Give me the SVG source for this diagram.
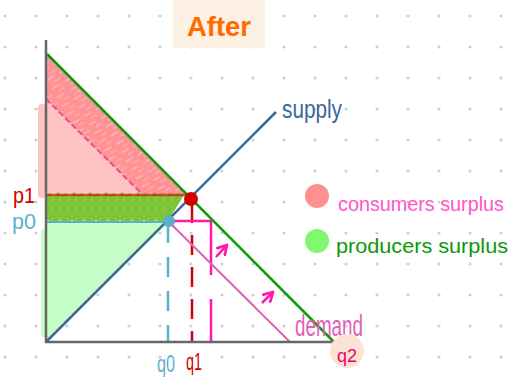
<svg xmlns="http://www.w3.org/2000/svg" width="518" height="382" viewBox="0 0 518 382">
<defs>
<pattern id="dots" x="5" y="16" width="31" height="31" patternUnits="userSpaceOnUse">
<circle cx="0" cy="0" r="1.6" fill="#cfcfcf"/><circle cx="31" cy="0" r="1.6" fill="#cfcfcf"/><circle cx="0" cy="31" r="1.6" fill="#cfcfcf"/><circle cx="31" cy="31" r="1.6" fill="#cfcfcf"/>
</pattern>
<pattern id="hatch" width="14" height="10" patternUnits="userSpaceOnUse" patternTransform="rotate(-30)">
<line x1="1" y1="3" x2="8" y2="3" stroke="#ffffff" stroke-opacity="0.35" stroke-width="1.6" stroke-linecap="round"/>
<line x1="6" y1="8" x2="12" y2="8" stroke="#ffffff" stroke-opacity="0.25" stroke-width="1.4" stroke-linecap="round"/>
</pattern>
<pattern id="ghatch" width="8" height="12" patternUnits="userSpaceOnUse">
<line x1="4" y1="2" x2="4" y2="9" stroke="#9bd45a" stroke-opacity="0.6" stroke-width="1.4" stroke-linecap="round"/>
</pattern>
<marker id="arr" viewBox="0 0 10 10" refX="8" refY="5" markerWidth="5" markerHeight="5" orient="auto">
<path d="M1,1 L8,5 L1,9" fill="none" stroke="#ff1aa6" stroke-width="2.2" stroke-linecap="round" stroke-linejoin="round"/>
</marker>
</defs>
<style>
.hand{font-family:"Liberation Sans Narrow","Liberation Sans",Arial,sans-serif;}
.axis{stroke:#666;stroke-width:2.5;fill:none;}
.dashT{stroke:#5ab2cc;stroke-width:2.5;stroke-dasharray:20 14;fill:none;}
.dashR{stroke:#d40000;stroke-width:2.5;stroke-dasharray:20 12;fill:none;}
.mag{stroke:#ff1aa6;stroke-width:2.5;fill:none;}
</style>
<rect width="518" height="382" fill="#ffffff"/>
<rect width="518" height="382" fill="url(#dots)"/>

<g id="title">
<rect x="173" y="0" width="92" height="48" fill="#fdf1e3"/>
<text x="219" y="36" class="hand" font-size="28" font-weight="bold" fill="#ff6a00" text-anchor="middle" textLength="64" lengthAdjust="spacingAndGlyphs">After</text>
</g>

<g id="areas">
<path d="M46,222 L169,222 L46,342 Z" fill="#c6fcc6"/>
<path d="M44,232 L44,334" stroke="#c6fcc6" stroke-width="6" stroke-linecap="round"/>
<path d="M46,99 L142,195 L46,195 Z" fill="#ffc3c3"/>
<path d="M42,108 L42,194" stroke="#ffc3c3" stroke-width="8" stroke-linecap="round"/>
<path d="M47,55 L188,195 L142,195 L46,99 Z" fill="#ff9292"/>
<path d="M47,55 L188,195 L142,195 L46,99 Z" fill="url(#hatch)"/>
<path d="M46,99 L140,192" stroke="#e8508a" stroke-width="2" stroke-dasharray="6 3" fill="none"/>
<path d="M46,195 L50,193 L54,196 L58,192 L62,195 L66,193 L70,196 L74,192 L78,195 L82,193 L86,196 L90,192 L94,195 L98,193 L102,196 L106,192 L110,195 L114,193 L118,196 L122,192 L126,195 L130,193 L134,196 L138,192 L142,195 L146,193 L150,196 L154,192 L158,195 L162,193 L166,196 L170,192 L174,195 L178,193 L184,195 L168,221 L162,223 L156,220 L150,223 L144,220 L138,223 L132,220 L126,223 L120,220 L114,223 L108,220 L102,223 L96,220 L90,223 L84,220 L78,223 L72,220 L66,223 L60,220 L54,223 L48,220 L46,222 Z" fill="#7cc436"/>
<path d="M46,196 L186,196 L168,221 L46,221 Z" fill="url(#ghatch)"/>
</g>

<g id="connectors">
<line x1="46" y1="195" x2="190" y2="195" stroke="#d40000" stroke-width="2.5" stroke-opacity="0.6"/>
<line x1="46" y1="222" x2="169" y2="222" stroke="#5ab2cc" stroke-width="2"/>
<line class="dashT" x1="168" y1="223" x2="168" y2="342"/>
<line class="dashR" x1="192" y1="203" x2="192" y2="342"/>
<polyline class="mag" points="169,221 211,221 211,342" stroke-dasharray="96 24 200"/>
<line x1="169" y1="222" x2="290" y2="342" stroke="#e060b8" stroke-width="2"/>
<line x1="47" y1="54" x2="334" y2="342" stroke="#0a9a0a" stroke-width="2.5"/>
<line x1="46" y1="342" x2="276" y2="112" stroke="#3a6898" stroke-width="2.5"/>
<line x1="216" y1="257" x2="227" y2="245" class="mag" marker-end="url(#arr)"/>
<line x1="262" y1="303" x2="273" y2="292" class="mag" marker-end="url(#arr)"/>
</g>

<g id="axes">
<line class="axis" x1="46" y1="40" x2="46" y2="343"/>
<line class="axis" x1="45" y1="342" x2="336" y2="342"/>
</g>

<g id="equilibrium">
<circle cx="191" cy="199" r="7" fill="#d40000"/>
<circle cx="169" cy="221" r="6" fill="#5aaec8"/>
</g>

<g id="labels">
<text x="24" y="203" class="hand" font-size="22" fill="#d40000" text-anchor="middle" textLength="22" lengthAdjust="spacingAndGlyphs">p1</text>
<text x="24" y="229" class="hand" font-size="22" fill="#5ab2cc" text-anchor="middle" textLength="24" lengthAdjust="spacingAndGlyphs">p0</text>
<text x="166" y="372" class="hand" font-size="24" fill="#5ab2cc" text-anchor="middle" textLength="18" lengthAdjust="spacingAndGlyphs">q0</text>
<text x="194" y="370" class="hand" font-size="24" fill="#d40000" text-anchor="middle" textLength="16" lengthAdjust="spacingAndGlyphs">q1</text>
<text x="312" y="118" class="hand" font-size="26" fill="#3a6898" text-anchor="middle" textLength="60" lengthAdjust="spacingAndGlyphs">supply</text>
<text x="329" y="336" class="hand" font-size="30" fill="#e060b8" text-anchor="middle" textLength="68" lengthAdjust="spacingAndGlyphs">demand</text>
</g>

<g id="q2">
<circle cx="347" cy="351" r="17" fill="#fde3d3"/>
<text x="347" y="362" class="hand" font-size="19" fill="#e8006e" text-anchor="middle" textLength="20" lengthAdjust="spacingAndGlyphs">q2</text>
</g>

<g id="legend">
<circle cx="317" cy="196" r="12" fill="#ff9090"/>
<circle cx="317" cy="241" r="12" fill="#80f870"/>
<text x="338" y="211" class="hand" font-size="20" fill="#ff55c8" textLength="166" lengthAdjust="spacingAndGlyphs">consumers surplus</text>
<text x="336" y="253" class="hand" font-size="20" fill="#0a9a0a" textLength="172" lengthAdjust="spacingAndGlyphs">producers surplus</text>
</g>
</svg>
